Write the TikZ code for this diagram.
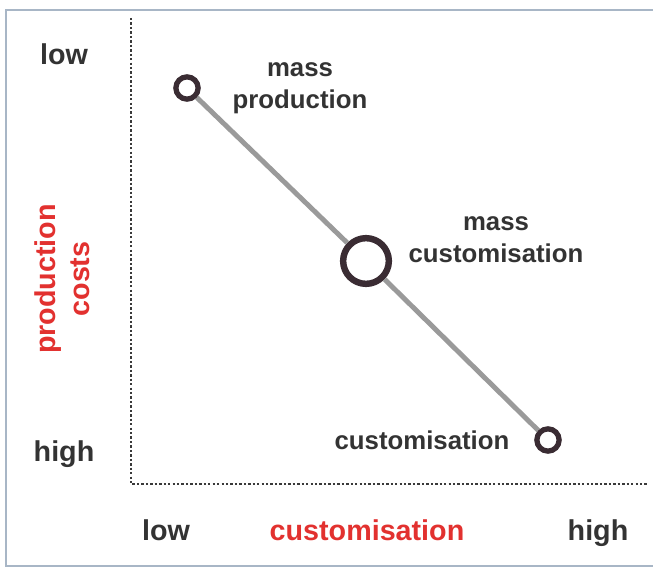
\documentclass[tikz,border=0pt]{standalone}
\usepackage{fontspec}
\setmainfont{Liberation Sans}
\usetikzlibrary{positioning}
\definecolor{txtgray}{HTML}{333333}
\definecolor{axred}{HTML}{E2312F}
\definecolor{ringcol}{HTML}{3A2C33}
\definecolor{linegray}{HTML}{9A9A9A}
\definecolor{framecol}{HTML}{A8B6C6}
\definecolor{dotcol}{HTML}{3A3A3A}

\begin{document}
\begin{tikzpicture}[x=0.03cm,y=-0.03cm,
  axislabel/.style={font=\fontsize{24.5}{29}\bfseries\selectfont,text=txtgray,inner sep=0pt,align=center},
  pointlabel/.style={font=\fontsize{22}{27}\bfseries\selectfont,text=txtgray,inner sep=0pt,align=center},
  ring/.style={circle,draw=ringcol,fill=white,inner sep=0pt},
  dotaxis/.style={draw=dotcol,line width=2.4pt,dash pattern=on 2pt off 1.8pt}]
\useasboundingbox (0,0) rectangle (653,570);
\draw[framecol,line width=2pt] (6,10) rectangle (660,566);

% axes
\coordinate (ytop) at (131,18);
\coordinate (orig) at (131,484);
\coordinate (xend) at (648,484);
\draw[dotaxis] (ytop) -- (orig) -- (xend);

% axis texts
\node[axislabel,anchor=base] (ylow) at (64,65) {low};
\node[axislabel,anchor=base] (yhigh) at (64,461) {high};
\node[axislabel,text=axred,rotate=90] (ytitle) at (62,279) {production\\costs};
\node[axislabel,anchor=base] (xlow) at (166,540) {low};
\node[axislabel,anchor=base,text=axred] (xtitle) at (367,540) {customisation};
\node[axislabel,anchor=base] (xhigh) at (598,540) {high};

% points
\node[ring,line width=4.5pt,minimum size=19pt] (mp) at (187,88) {};
\node[ring,line width=5.5pt,minimum size=39pt] (mc) at (366,261) {};
\node[ring,line width=4.5pt,minimum size=19pt] (cu) at (548,440) {};
\draw[linegray,line width=4.2pt] (mp) -- (mc);
\draw[linegray,line width=4.2pt] (mc) -- (cu);

\node[pointlabel] (mplabel) at (300,88) {mass\\production};
\node[pointlabel] (mclabel) at (496,240) {mass\\customisation};
\node[pointlabel] (culabel) at (422,440) {customisation};
\end{tikzpicture}
\end{document}
